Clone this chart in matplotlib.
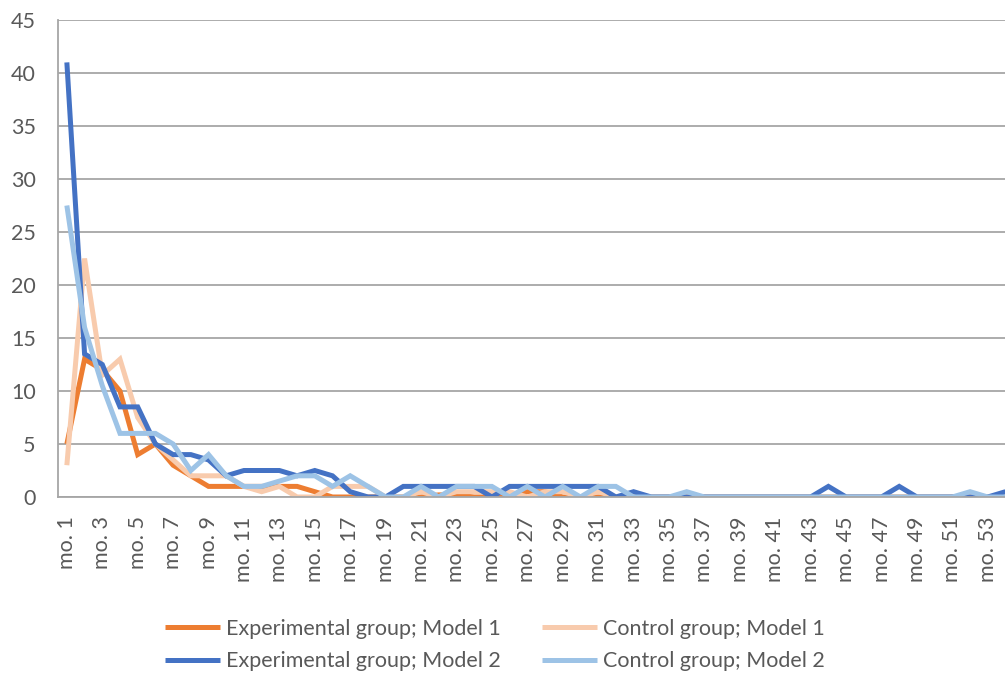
import numpy as np
import matplotlib
matplotlib.use("Agg")
import matplotlib.pyplot as plt

plt.rcParams['font.family'] = ['Lato', 'DejaVu Sans']

months = ["mo. %d" % i for i in range(1, 55)]

exp_m1 = [5, 13, 12, 10, 4, 5, 3, 2, 1, 1,
          1, 1, 1, 1, 0.5, 0, 0, 0, 0, 0,
          0, 0.2, 0.2, 0, 0, 0, 0.5, 0.5, 0, 0,
          0, 0, 0, 0, 0, 0, 0, 0, 0, 0,
          0, 0, 0, 0, 0, 0, 0, 0, 0, 0,
          0, 0, 0, 0]
ctl_m1 = [3, 22.5, 11.5, 13, 7.5, 5, 3.5, 2, 2, 2,
          1, 0.5, 1, 0, 0, 1, 1, 1, 0, 0,
          0.5, 0, 0.5, 0.5, 0.5, 0.5, 0, 0.5, 0.5, 0,
          0.5, 0, 0, 0, 0, 0, 0, 0, 0, 0,
          0, 0, 0, 0, 0, 0, 0, 0, 0, 0,
          0, 0, 0, 0]
exp_m2 = [41, 13.5, 12.5, 8.5, 8.5, 5, 4, 4, 3.5, 2,
          2.5, 2.5, 2.5, 2, 2.5, 2, 0.5, 0, 0, 1,
          1, 1, 1, 1, 0, 1, 1, 1, 1, 1,
          1, 0, 0.5, 0, 0, 0, 0, 0, 0, 0,
          0, 0, 0, 1, 0, 0, 0, 1, 0, 0,
          0, 0, 0, 0.5]
ctl_m2 = [27.5, 16, 10.5, 6, 6, 6, 5, 2.5, 4, 2,
          1, 1, 1.5, 2, 2, 1, 2, 1, 0, 0,
          1, 0, 1, 1, 1, 0, 1, 0, 1, 0,
          1, 1, 0, 0, 0, 0.5, 0, 0, 0, 0,
          0, 0, 0, 0, 0, 0, 0, 0, 0, 0,
          0, 0.5, 0, 0]

series = [
    ("Experimental group; Model 1", exp_m1, "#ED7D31"),
    ("Control group; Model 1", ctl_m1, "#F8CBAD"),
    ("Experimental group; Model 2", exp_m2, "#4472C4"),
    ("Control group; Model 2", ctl_m2, "#9DC3E6"),
]

fig = plt.figure(figsize=(10.05, 6.77), dpi=100)
ax = fig.add_axes([58 / 1005, 1 - 497 / 677, (54 * 17.71) / 1005, 477 / 677])

x = np.arange(1, len(months) + 1)
lines = []
for name, vals, col in series:
    ln, = ax.plot(x, vals, color=col, lw=3.6, label=name, solid_joinstyle='miter',
                  solid_capstyle='butt')
    lines.append(ln)

ax.set_xlim(0.5, len(months) + 0.5)
ax.set_ylim(0, 45)
ax.set_yticks(range(0, 46, 5))
ax.set_xticks(x[::2])
ax.set_xticklabels(months[::2], rotation=90)
ax.tick_params(axis='both', length=0, labelsize=15.5, colors='#595959')
ax.tick_params(axis='y', pad=16)
ax.tick_params(axis='x', pad=14)
ax.grid(axis='y', color='#A6A6A6', lw=1.3)
ax.set_axisbelow(True)
for s in ['top', 'right']:
    ax.spines[s].set_visible(False)
for s in ['left', 'bottom']:
    ax.spines[s].set_color('#A6A6A6')
    ax.spines[s].set_linewidth(1.3)

# legend fills column-wise, so reorder to get the row layout
order = [0, 2, 1, 3]
fig.legend([lines[i] for i in order], [series[i][0] for i in order], ncol=2,
           loc='center', bbox_to_anchor=(495 / 1005, 1 - 645 / 677),
           frameon=False, fontsize=15.5, handlelength=2.55, handletextpad=0.25,
           columnspacing=1.95, labelcolor='#595959', labelspacing=0.6)

fig.savefig("out.png", dpi=100)
